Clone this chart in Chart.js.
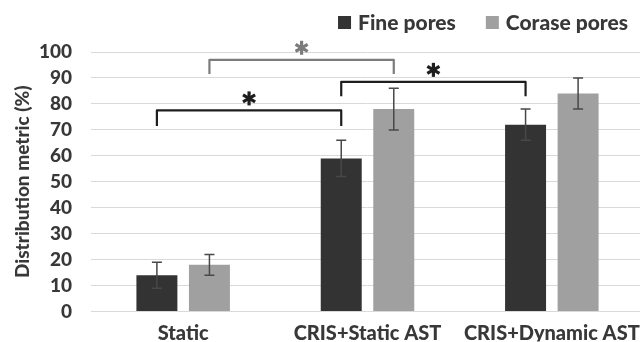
<!DOCTYPE html>
<html>
<head>
<meta charset="utf-8">
<script src="https://cdn.jsdelivr.net/npm/chart.js@4.4.1/dist/chart.umd.min.js"></script>
<style>
  html, body { margin: 0; padding: 0; background: #fff; overflow: hidden; }
  #wrap { width: 644px; height: 342px; }
</style>
</head>
<body>
<div id="wrap"><canvas id="poreChart" width="644" height="342"></canvas></div>
<script>
// dados
const categories = ['Static', 'CRIS+Static AST', 'CRIS+Dynamic AST'];
const finePores = [14, 59, 72];
const finePoresErr = [5, 7, 6];
const coarsePores = [18, 78, 84];
const coarsePoresErr = [4, 8, 6];
const yTicks = [0, 10, 20, 30, 40, 50, 60, 70, 80, 90, 100];

// colchetes de significância (série, de, até, altura)
const bracketSeries = [0, 1, 0];
const bracketFrom = [0, 0, 1];
const bracketTo = [1, 1, 2];
const bracketTop = [77.5, 97, 88.5];
const bracketLegBottom = [71.5, 91.5, 83];
const bracketColors = ['#1e1e1e', '#7c7c7c', '#1e1e1e'];

const textColor = '#383838';
const fontFamily = 'Lato';
const fontWeight = 900;
const errors = [finePoresErr, coarsePoresErr];

function drawStar(ctx, x, y, r, color) {
    ctx.save();
    ctx.strokeStyle = color;
    ctx.lineWidth = 3.2;
    for (let k = 0; k < 3; k++) {
        const a = Math.PI / 2 + k * Math.PI / 3;
        ctx.beginPath();
        ctx.moveTo(x - r * Math.cos(a), y - r * Math.sin(a));
        ctx.lineTo(x + r * Math.cos(a), y + r * Math.sin(a));
        ctx.stroke();
    }
    ctx.restore();
}

const extrasPlugin = {
    id: 'extras',
    afterDatasetsDraw(chart) {
        const ctx = chart.ctx;
        const yScale = chart.scales.y;

        // barras de erro
        chart.data.datasets.forEach((ds, i) => {
            chart.getDatasetMeta(i).data.forEach((bar, j) => {
                const v = ds.data[j];
                const e = errors[i][j];
                const top = yScale.getPixelForValue(v + e);
                const bot = yScale.getPixelForValue(v - e);
                ctx.save();
                ctx.strokeStyle = '#484848';
                ctx.lineWidth = 1.5;
                ctx.beginPath();
                ctx.moveTo(bar.x, top); ctx.lineTo(bar.x, bot);
                ctx.moveTo(bar.x - 5, top); ctx.lineTo(bar.x + 5, top);
                ctx.moveTo(bar.x - 5, bot); ctx.lineTo(bar.x + 5, bot);
                ctx.stroke();
                ctx.restore();
            });
        });

        // colchetes e asteriscos
        bracketSeries.forEach((s, k) => {
            const meta = chart.getDatasetMeta(s);
            const x1 = meta.data[bracketFrom[k]].x;
            const x2 = meta.data[bracketTo[k]].x;
            const yTop = yScale.getPixelForValue(bracketTop[k]);
            const yLeg = yScale.getPixelForValue(bracketLegBottom[k]);
            ctx.save();
            ctx.strokeStyle = bracketColors[k];
            ctx.lineWidth = 2.2;
            ctx.lineJoin = 'round';
            ctx.beginPath();
            ctx.moveTo(x1, yLeg);
            ctx.lineTo(x1, yTop);
            ctx.lineTo(x2, yTop);
            ctx.lineTo(x2, yLeg);
            ctx.stroke();
            ctx.restore();
            drawStar(ctx, (x1 + x2) / 2, yTop - 12, 7, bracketColors[k]);
        });
    },
    // legenda desenhada à mão (alinhada à direita)
    afterDraw(chart) {
        const ctx = chart.ctx;
        const box = 13, gapText = 7, gapItem = 30, rightEdge = 628, cy = 22.5;
        ctx.save();
        ctx.font = fontWeight + ' 21px ' + fontFamily;
        ctx.textBaseline = 'middle';
        const items = chart.data.datasets.map(ds => ({
            text: ds.label, color: ds.backgroundColor, w: ctx.measureText(ds.label).width
        }));
        let total = 0;
        items.forEach((it, i) => { total += box + gapText + it.w + (i > 0 ? gapItem : 0); });
        let x = rightEdge - total;
        items.forEach(it => {
            ctx.fillStyle = it.color;
            ctx.fillRect(x, cy - box / 2, box, box);
            ctx.fillStyle = textColor;
            ctx.fillText(it.text, x + box + gapText, cy + 1);
            x += box + gapText + it.w + gapItem;
        });
        ctx.restore();
    }
};

const data = {
    labels: categories,
    datasets: [
        {
            label: 'Fine pores',
            data: finePores,
            backgroundColor: '#333333',
            borderWidth: 0,
            categoryPercentage: 0.57,
            barPercentage: 0.78
        },
        {
            label: 'Corase pores',
            data: coarsePores,
            backgroundColor: '#a0a0a0',
            borderWidth: 0,
            categoryPercentage: 0.57,
            barPercentage: 0.78
        }
    ]
};

const config = {
    type: 'bar',
    data: data,
    options: {
        responsive: false,
        animation: false,
        layout: { padding: { left: 0, right: 0, top: 52, bottom: 0 } },
        plugins: {
            tooltip: { enabled: false },
            legend: { display: false }
        },
        scales: {
            x: {
                grid: { display: false },
                border: { display: false },
                ticks: {
                    color: textColor,
                    padding: 2,
                    maxRotation: 0,
                    autoSkip: false,
                    font: { family: fontFamily, weight: fontWeight, size: 20 }
                },
                afterFit(scale) { scale.height = 30; }
            },
            y: {
                min: 0,
                max: 100,
                afterBuildTicks(scale) { scale.ticks = yTicks.map(v => ({ value: v })); },
                grid: { color: '#d9d9d9', lineWidth: 1, drawTicks: false },
                border: { display: false },
                ticks: {
                    color: textColor,
                    padding: 19,
                    font: { family: fontFamily, weight: fontWeight, size: 19 }
                },
                title: {
                    display: true,
                    text: 'Distribution metric (%)',
                    color: textColor,
                    padding: { top: 11, bottom: 0 },
                    font: { family: fontFamily, weight: fontWeight, size: 19 }
                },
                afterFit(scale) { scale.width = 91; }
            }
        }
    },
    plugins: [extrasPlugin]
};

const ctx = document.getElementById('poreChart').getContext('2d');
window.myChart = new Chart(ctx, config);
</script>
</body>
</html>
